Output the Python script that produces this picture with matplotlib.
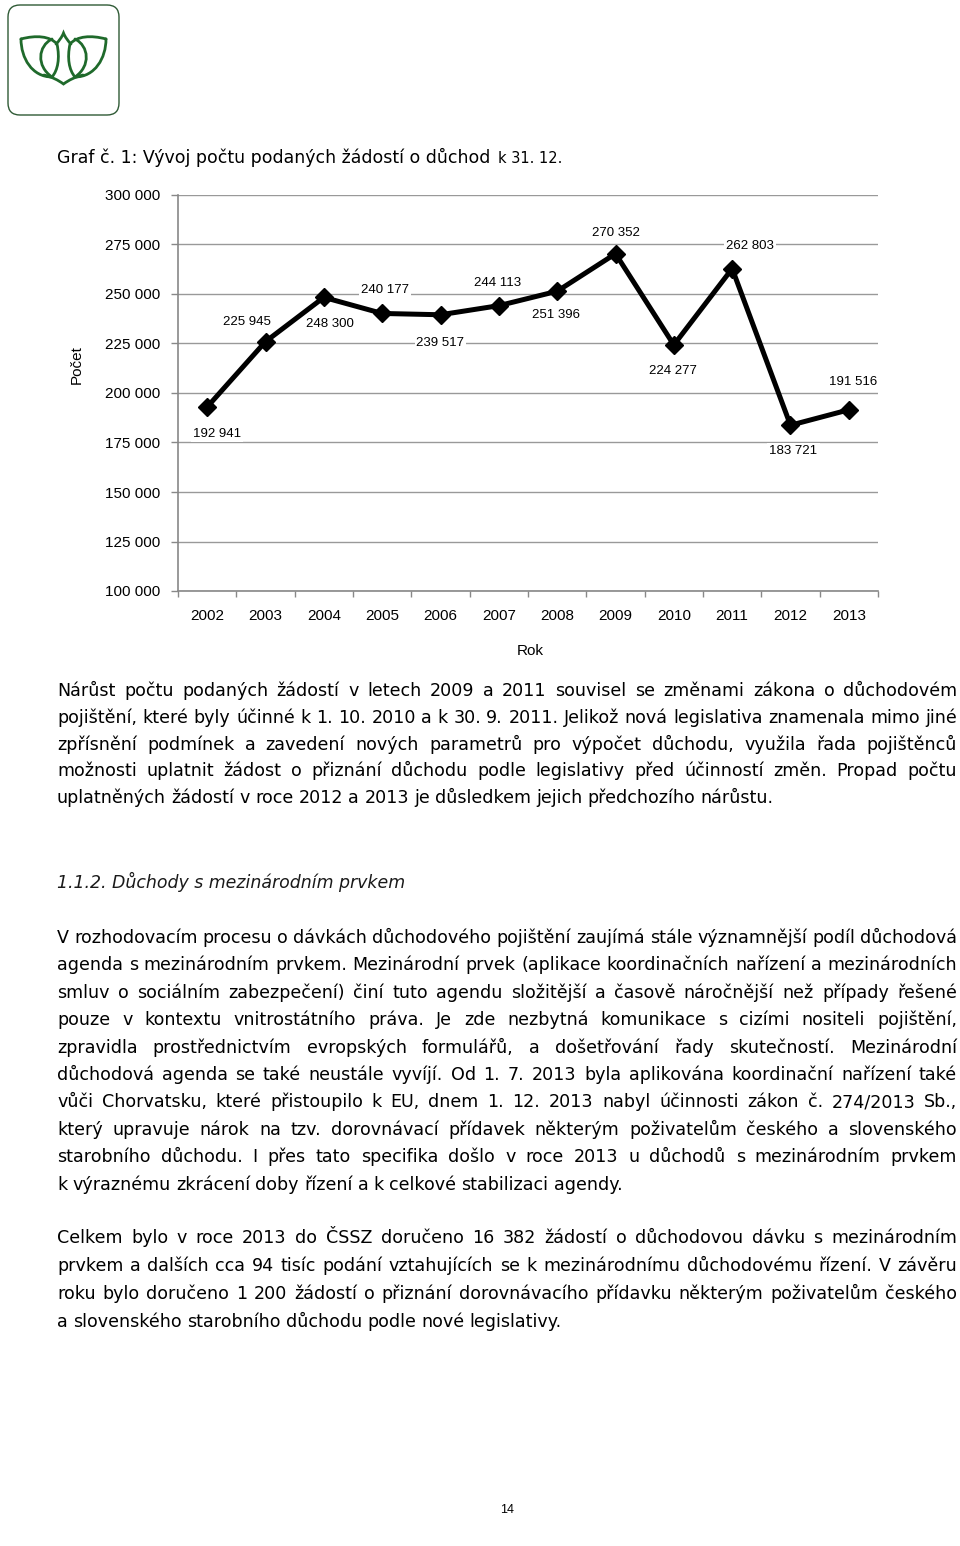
import numpy as np
import matplotlib
matplotlib.use("Agg")
import matplotlib.pyplot as plt
from matplotlib.path import Path
from matplotlib.patches import PathPatch, FancyBboxPatch
from matplotlib.ticker import FuncFormatter

# data
years = ["2002", "2003", "2004", "2005", "2006", "2007",
         "2008", "2009", "2010", "2011", "2012", "2013"]
pocet = [192941, 225945, 248300, 240177, 239517, 244113,
         251396, 270352, 224277, 262803, 183721, 191516]
y_ticks = [100000, 125000, 150000, 175000, 200000, 225000, 250000, 275000, 300000]

title_main = "Graf č. 1: Vývoj počtu podaných žádostí o důchod"
title_tail = "k 31. 12."
heading = "1.1.2. Důchody s mezinárodním prvkem"

par1 = [
    "Nárůst počtu podaných žádostí v letech 2009 a 2011 souvisel se změnami zákona o důchodovém",
    "pojištění, které byly účinné k 1. 10. 2010 a k 30. 9. 2011. Jelikož nová legislativa znamenala mimo jiné",
    "zpřísnění podmínek a zavedení nových parametrů pro výpočet důchodu, využila řada pojištěnců",
    "možnosti uplatnit žádost o přiznání důchodu podle legislativy před účinností změn. Propad počtu",
    "uplatněných žádostí v roce 2012 a 2013 je důsledkem jejich předchozího nárůstu.",
]
par2 = [
    "V rozhodovacím procesu o dávkách důchodového pojištění zaujímá stále významnější podíl důchodová",
    "agenda s mezinárodním prvkem. Mezinárodní prvek (aplikace koordinačních nařízení a mezinárodních",
    "smluv o sociálním zabezpečení) činí tuto agendu složitější a časově náročnější než případy řešené",
    "pouze v kontextu vnitrostátního práva. Je zde nezbytná komunikace s cizími nositeli pojištění,",
    "zpravidla prostřednictvím evropských formulářů, a došetřování řady skutečností. Mezinárodní",
    "důchodová agenda se také neustále vyvíjí. Od 1. 7. 2013 byla aplikována koordinační nařízení také",
    "vůči Chorvatsku, které přistoupilo k EU, dnem 1. 12. 2013 nabyl účinnosti zákon č. 274/2013 Sb.,",
    "který upravuje nárok na tzv. dorovnávací přídavek některým poživatelům českého a slovenského",
    "starobního důchodu. I přes tato specifika došlo v roce 2013 u důchodů s mezinárodním prvkem",
    "k výraznému zkrácení doby řízení a k celkové stabilizaci agendy.",
]
par3 = [
    "Celkem bylo v roce 2013 do ČSSZ doručeno 16 382 žádostí o důchodovou dávku s mezinárodním",
    "prvkem a dalších cca 94 tisíc podání vztahujících se k mezinárodnímu důchodovému řízení. V závěru",
    "roku bylo doručeno 1 200 žádostí o přiznání dorovnávacího přídavku některým poživatelům českého",
    "a slovenského starobního důchodu podle nové legislativy.",
]
page_no = "14"

# label offsets in pixels (dx, dy down)
lab_off = [(10, 27), (-19, -20), (6, 27), (3, -23), (0, 28), (-1, -23),
           (-1, 24), (0, -21), (-1, 26), (18, -23), (3, 26), (4, -28)]

W, H = 960, 1546
fig = plt.figure(figsize=(W / 100, H / 100), dpi=100)
fig.patch.set_facecolor("white")

bg = fig.add_axes([0, 0, 1, 1])
bg.set_xlim(0, W)
bg.set_ylim(H, 0)
bg.axis("off")

# logo
green = "#1f6a2b"
bg.add_patch(FancyBboxPatch((8, 5), 111, 110, boxstyle="round,pad=0,rounding_size=12",
                            ec="#2f5a35", fc="none", lw=1.0))
def curve(pts, codes):
    bg.add_patch(PathPatch(Path(pts, codes), fc="none", ec=green, lw=2.0, capstyle="round"))
M, C = Path.MOVETO, Path.CURVE4
cx = 63.5
for s in (1, -1):
    X = lambda x: cx + s * (x - cx)
    # leaf outline
    curve([(X(21), 39), (X(36), 35), (X(50), 36), (X(57), 44),
           (X(60), 58), (X(58), 70), (X(52), 77),
           (X(32), 77), (X(21), 58), (X(21), 39)],
          [M, C, C, C, C, C, C, C, C, C])
    # vein
    curve([(X(52), 39), (X(38), 46), (X(36), 66), (X(52), 77)], [M, C, C, C])
curve([(56, 44), (59, 41), (62, 37), (63.5, 33), (65, 37), (68, 41), (71, 44)],
      [M, C, C, C, C, C, C])
curve([(44, 75), (52, 77), (58, 80), (63.5, 84), (69, 80), (75, 77), (83, 75)],
      [M, C, C, C, C, C, C])

body_font = "DejaVu Sans"
rend = fig.canvas.get_renderer()

def width_of(t):
    return t.get_window_extent(rend).width

# title
t1 = bg.text(57, 163, title_main, fontsize=12.5, family=body_font, va="baseline", ha="left")
w1 = width_of(t1)
bg.text(57 + w1 + 8, 163, title_tail, fontsize=10.5, family=body_font, va="baseline", ha="left")

def justify(line, y, last=False, size=12.6, x0=57, x1=957):
    words = line.split()
    ts = [bg.text(0, y, w, fontsize=size, family=body_font, va="baseline", ha="left") for w in words]
    ws = [width_of(t) for t in ts]
    space = size * 1.389 * 0.30
    total = sum(ws)
    if not last and len(words) > 1:
        gap = (x1 - x0 - total) / (len(words) - 1)
        if gap < space * 0.7:
            k = (x1 - x0 - space * 0.7 * (len(words) - 1)) / total
            for t in ts:
                t.set_fontsize(size * k)
            ws = [width_of(t) for t in ts]
            gap = (x1 - x0 - sum(ws)) / (len(words) - 1)
    else:
        gap = space
    x = x0
    for t, w in zip(ts, ws):
        t.set_x(x)
        x += w + gap

def paragraph(lines, y0, step):
    for i, ln in enumerate(lines):
        justify(ln, y0 + i * step, last=(i == len(lines) - 1))

paragraph(par1, 696, 26.8)
bg.text(57, 888, heading, fontsize=12.5, family=body_font, style="italic",
        va="baseline", ha="left", color="#1a1a1a")
paragraph(par2, 943, 27.4)
paragraph(par3, 1243, 28)
bg.text(507, 1510, page_no, fontsize=9, family="Liberation Sans", ha="center", va="center")

# chart
ax = fig.add_axes([178 / W, 1 - 591 / H, 700 / W, 396 / H])
ax.set_facecolor("none")
x = np.arange(len(years))
ax.plot(x, pocet, color="black", lw=3.6, marker="D", markersize=9.5, zorder=3, clip_on=False)
for i, (v, (dx, dy)) in enumerate(zip(pocet, lab_off)):
    ax.annotate(f"{v:,}".replace(",", " "), (x[i], v), xytext=(dx, -dy),
                textcoords="offset pixels", ha="center", va="center",
                fontsize=9.5, family="Liberation Sans", zorder=5,
                bbox=dict(boxstyle="square,pad=0.15", fc="white", ec="none"))
ax.set_xlim(-0.5, len(years) - 0.5)
ax.set_ylim(y_ticks[0], y_ticks[-1])
ax.set_yticks(y_ticks)
ax.yaxis.set_major_formatter(FuncFormatter(lambda v, p: f"{int(v):,}".replace(",", " ")))
ax.set_xticks(x)
ax.set_xticklabels(years)
ax.set_xticks(np.arange(-0.5, len(years), 1.0), minor=True)
ax.tick_params(axis="x", which="major", length=0, pad=13, labelsize=11)
ax.tick_params(axis="x", which="minor", length=4, color="#888888", width=1)
ax.tick_params(axis="y", length=5, color="#888888", width=1, pad=8, labelsize=11)
for lab in ax.get_xticklabels() + ax.get_yticklabels():
    lab.set_family("Liberation Sans")
ax.grid(axis="y", color="#999999", lw=1)
ax.set_axisbelow(True)
for sp in ("top", "right"):
    ax.spines[sp].set_visible(False)
for sp in ("left", "bottom"):
    ax.spines[sp].set_color("#888888")
    ax.spines[sp].set_linewidth(1.2)

bg.text(77, 365, "Počet", rotation=90, fontsize=11, family="Liberation Sans",
        ha="center", va="center")
bg.text(530, 651, "Rok", fontsize=11, family="Liberation Sans", ha="center", va="center")

fig.savefig("out.png", dpi=100, facecolor="white")
